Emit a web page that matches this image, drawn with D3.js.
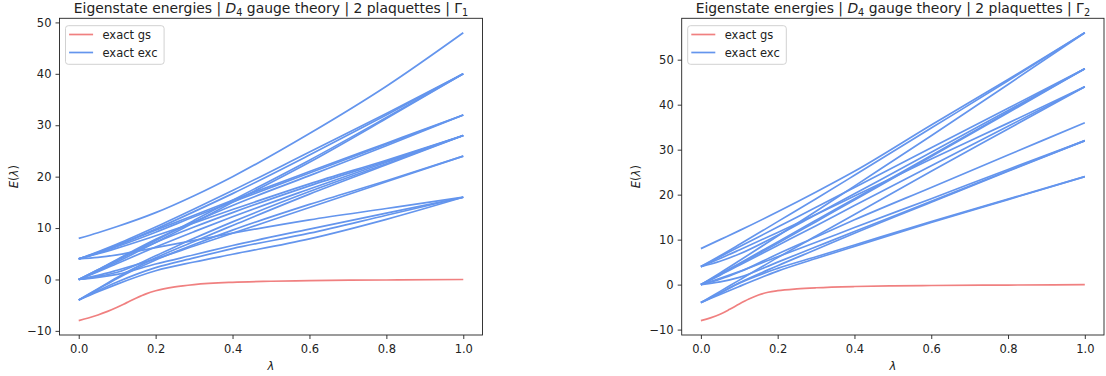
<!DOCTYPE html>
<html>
<head>
<meta charset="utf-8">
<script src="https://cdn.jsdelivr.net/npm/d3@7"></script>
<style>
  body { margin: 0; background: #fff; }
  svg { font-family: "DejaVu Sans", sans-serif; }
</style>
</head>
<body>
<div id="chart"></div>
<script>
const lambdas = [0, 0.05, 0.1, 0.2, 0.3, 0.4, 0.6, 0.8, 1.0];
const gsLambdas = [0, 0.025, 0.05, 0.075, 0.1, 0.125, 0.15, 0.175, 0.2, 0.25, 0.3, 0.4, 0.5, 0.6, 0.8, 1.0];
const xTicks = [0, 0.2, 0.4, 0.6, 0.8, 1.0];
const yTicks = [-10, 0, 10, 20, 30, 40, 50];
const legendLabels = ['exact gs', 'exact exc'];

// Gamma_1 sector
const gsGamma1 = [-8, -7.5, -6.9, -6.2, -5.4, -4.5, -3.6, -2.8, -2.2, -1.45, -1.0, -0.55, -0.35, -0.22, -0.1, 0];
const excGamma1 = [
  [8, 9.1, 10.3, 13, 16.3, 20, 28.4, 37.6, 48],
  [4, 5.4, 6.9, 10.2, 13.7, 17.3, 24.8, 32.3, 40],
  [4, 5.2, 6.6, 9.8, 13.2, 16.7, 24.2, 32, 40],
  [0, 1.8, 3.7, 7.6, 11.5, 15.4, 23.2, 31.5, 40],
  [0, 1.6, 3.4, 7.2, 11.1, 15, 22.8, 31.3, 40],
  [4, 5.3, 6.7, 9.6, 12.5, 15.4, 21, 26.5, 32],
  [4, 5.1, 6.4, 9.2, 12.2, 15.1, 20.7, 26.3, 32],
  [0, 1.9, 3.9, 7.8, 11.2, 14.4, 20.2, 26, 32],
  [4, 5, 6.1, 8.5, 11, 13.6, 18.6, 23.2, 28],
  [0, 1.9, 3.8, 7.2, 10.2, 13, 18.2, 23, 28],
  [0, 1.5, 3.1, 6.3, 9.3, 12.2, 17.6, 22.8, 28],
  [-4, -1.8, 0.4, 4.2, 7.4, 10.5, 16.6, 22.3, 28],
  [0, 0.6, 1.4, 4.6, 8, 11.2, 17.1, 22.5, 28],
  [-4, -1.9, 0.2, 3.8, 6.8, 9.6, 14.6, 19.2, 24],
  [0, 0.8, 1.8, 4, 6.5, 9, 14, 19, 24],
  [-4, -2.4, -0.9, 1.7, 3.4, 4.9, 7.9, 11.7, 16],
  [-4, -2.2, -0.5, 2.3, 4.2, 6, 9, 12.5, 16],
  [0, 0.4, 1, 3, 4.8, 6.6, 9.8, 12.9, 16],
  [4, 4.3, 4.8, 6.2, 7.6, 9, 11.6, 13.8, 16]
];

// Gamma_2 sector
const gsGamma2 = [-8, -7.4, -6.6, -5.5, -4.3, -3.2, -2.3, -1.7, -1.35, -0.95, -0.7, -0.42, -0.28, -0.2, -0.1, 0];
const excGamma2 = [
  [8, 10, 12, 16.2, 20.6, 25.2, 35.5, 45.6, 56],
  [4, 6.4, 8.9, 14, 19.1, 24.3, 34.8, 45.3, 56],
  [0, 2.6, 5.3, 10.8, 16.3, 21.9, 33.1, 44.5, 56],
  [4, 6.2, 8.4, 12.8, 17.2, 21.6, 30.4, 39.2, 48],
  [0, 2.3, 4.7, 9.5, 14.3, 19.1, 28.7, 38.4, 48],
  [0, 2.2, 4.5, 9.2, 14, 18.8, 28.5, 38.2, 48],
  [4, 5.2, 6.8, 11, 15.6, 20.2, 29.4, 38.7, 48],
  [0, 2.1, 4.3, 8.7, 13.1, 17.6, 26.4, 35.2, 44],
  [-4, -1.5, 1, 6, 10.8, 15.6, 25.2, 34.6, 44],
  [4, 5.8, 7.7, 11.6, 15.6, 19.7, 27.9, 35.9, 44],
  [0, 1.2, 2.8, 6.8, 10.6, 14.4, 21.6, 28.8, 36],
  [-4, -1.8, 0.4, 4.2, 7.8, 11.4, 18.3, 25.2, 32],
  [0, 1.4, 2.9, 6.2, 9.4, 12.7, 19.1, 25.6, 32],
  [0, 0.6, 1.6, 5, 8.4, 11.8, 18.5, 25.3, 32],
  [-4, -1.9, 0.3, 3.6, 6.2, 8.8, 14, 19, 24],
  [-4, -2.2, -0.4, 3, 5.8, 8.5, 13.8, 18.9, 24]
];

const width = 1106, height = 376;
const plotTop = 18.3, plotBottom = 335;
const gsColor = 'lightcoral', excColor = 'cornflowerblue';
const fontSize = 11.5, titleSize = 13.9, lineW = 1.7;

const panels = [
  { irrep: '1', gs: gsGamma1, exc: excGamma1, left: 59.5, right: 482.5, ylabelX: 14 },
  { irrep: '2', gs: gsGamma2, exc: excGamma2, left: 681.7, right: 1104, ylabelX: 636 }
];

const svg = d3.select('#chart').append('svg')
  .attr('width', width)
  .attr('height', height);

const minus = d => (d < 0 ? '\u2212' + Math.abs(d) : String(d));

panels.forEach(p => {
  // matplotlib style 5% margins
  const all = p.gs.concat(...p.exc);
  const [lo, hi] = d3.extent(all);
  const pad = (hi - lo) * 0.05;

  const x = d3.scaleLinear().domain([-0.05, 1.05]).range([p.left, p.right]);
  const y = d3.scaleLinear().domain([lo - pad, hi + pad]).range([plotBottom, plotTop]);

  const lineOn = grid => d3.line()
    .x((d, i) => x(grid[i]))
    .y(d => y(d))
    .curve(d3.curveMonotoneX);

  const g = svg.append('g');

  g.selectAll('.exc').data(p.exc).enter().append('path')
    .attr('class', 'exc')
    .attr('d', lineOn(lambdas))
    .attr('fill', 'none')
    .attr('stroke', excColor)
    .attr('stroke-width', lineW);

  g.append('path')
    .attr('d', lineOn(gsLambdas)(p.gs))
    .attr('fill', 'none')
    .attr('stroke', gsColor)
    .attr('stroke-width', lineW);

  // axes
  const xAxis = g.append('g')
    .attr('transform', 'translate(0,' + plotBottom + ')')
    .call(d3.axisBottom(x).tickValues(xTicks).tickSize(4).tickPadding(6).tickFormat(d3.format('.1f')));
  const yAxis = g.append('g')
    .attr('transform', 'translate(' + p.left + ',0)')
    .call(d3.axisLeft(y).tickValues(yTicks).tickSize(4).tickPadding(4).tickFormat(minus));
  [xAxis, yAxis].forEach(a => {
    a.select('.domain').remove();
    a.selectAll('line').attr('stroke', '#222').attr('stroke-width', 0.9);
    a.selectAll('text').attr('font-size', fontSize).attr('fill', '#222').attr('font-family', '"DejaVu Sans", sans-serif');
  });

  g.append('rect')
    .attr('x', p.left).attr('y', plotTop)
    .attr('width', p.right - p.left).attr('height', plotBottom - plotTop)
    .attr('fill', 'none').attr('stroke', '#222').attr('stroke-width', 0.9);

  // title
  const cx = (p.left + p.right) / 2;
  const title = g.append('text')
    .attr('x', cx).attr('y', 13.3)
    .attr('text-anchor', 'middle')
    .attr('font-size', titleSize).attr('fill', '#222');
  title.append('tspan').text('Eigenstate energies | ');
  title.append('tspan').attr('font-style', 'italic').text('D');
  title.append('tspan').attr('font-size', 9.7).attr('dy', 2.8).text('4');
  title.append('tspan').attr('dy', -2.8).text(' gauge theory | 2 plaquettes | \u0393');
  title.append('tspan').attr('font-size', 9.7).attr('dy', 2.8).text(p.irrep);

  // axis labels
  const xl = g.append('text')
    .attr('x', cx).attr('y', 370)
    .attr('text-anchor', 'middle')
    .attr('font-size', fontSize).attr('fill', '#222');
  xl.append('tspan').attr('font-style', 'italic').text('\u03bb');

  const yl = g.append('text')
    .attr('transform', 'translate(' + p.ylabelX + ',' + ((plotTop + plotBottom) / 2) + ') rotate(-90)')
    .attr('dy', '0.35em')
    .attr('text-anchor', 'middle')
    .attr('font-size', fontSize).attr('fill', '#222');
  yl.append('tspan').attr('font-style', 'italic').text('E');
  yl.append('tspan').text('(');
  yl.append('tspan').attr('font-style', 'italic').text('\u03bb');
  yl.append('tspan').text(')');

  // legend
  const lg = g.append('g').attr('transform', 'translate(' + (p.left + 6) + ',' + (plotTop + 7.4) + ')');
  lg.append('rect')
    .attr('width', 98.6).attr('height', 38.6)
    .attr('rx', 2.8)
    .attr('fill', '#fff').attr('fill-opacity', 0.8)
    .attr('stroke', '#ccc').attr('stroke-width', 0.9);
  legendLabels.forEach((lab, i) => {
    const yy = 8.8 + i * 18;
    lg.append('line')
      .attr('x1', 3.6).attr('x2', 27.6)
      .attr('y1', yy).attr('y2', yy)
      .attr('stroke', i === 0 ? gsColor : excColor)
      .attr('stroke-width', lineW);
    lg.append('text')
      .attr('x', 37).attr('y', yy).attr('dy', '0.35em')
      .attr('font-size', fontSize).attr('fill', '#222')
      .text(lab);
  });
});
</script>
</body>
</html>
